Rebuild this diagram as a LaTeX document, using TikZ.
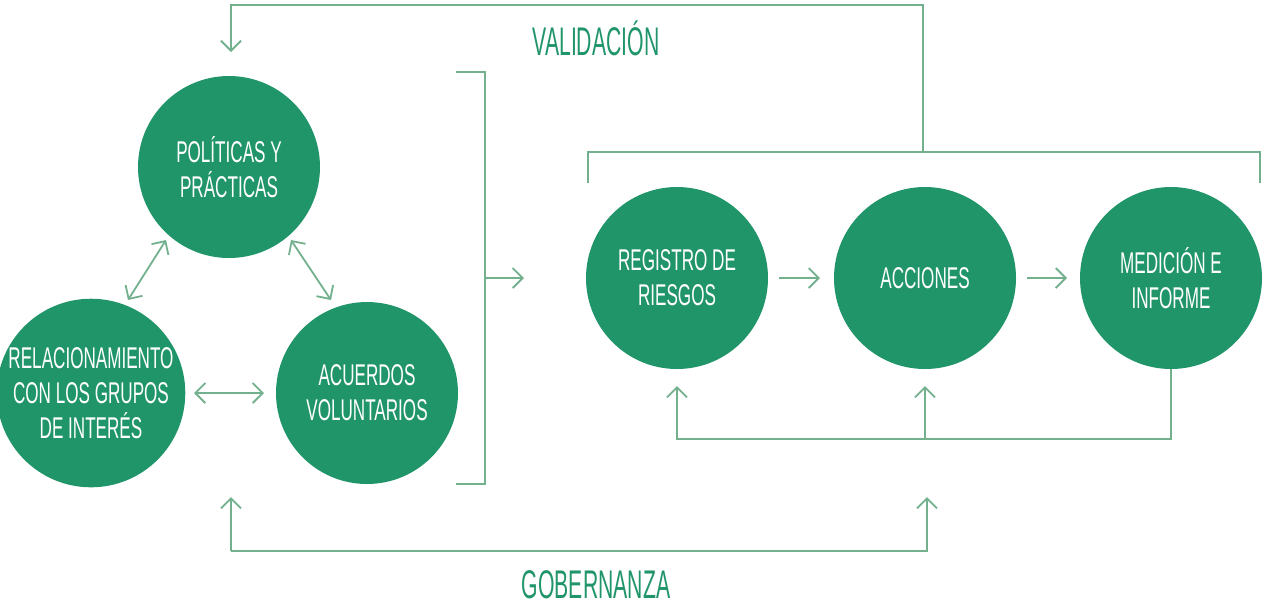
\documentclass[tikz,border=0pt]{standalone}
\usepackage{fontspec}
\setmainfont[FakeStretch=0.57]{Liberation Sans}
\newfontfamily\labelfont[FakeStretch=0.53]{Liberation Sans}
\usepackage{tikz}
\usetikzlibrary{arrows.meta}
\definecolor{circgreen}{HTML}{21956A}
\definecolor{linegreen}{HTML}{72B08E}
\tikzset{
  stage/.style={circle,fill=circgreen,minimum size=91pt,inner sep=0pt,
    text=white,align=center,font=\fontsize{15}{17.5}\selectfont},
  conn/.style={draw=linegreen,line width=0.9pt},
  tip/.style={-{Straight Barb[length=5pt,width=10pt]}},
  both/.style={{Straight Barb[length=5pt,width=10pt]}-{Straight Barb[length=5pt,width=10pt]}},
  lbl/.style={text=circgreen,inner sep=0pt,font=\labelfont\fontsize{20}{22}\selectfont}
}
\begin{document}
\begin{tikzpicture}[x=0.5pt,y=-0.5pt]
  \useasboundingbox (0,0) rectangle (1263,607);
  \node[stage] (pol) at (229,167) {POLÍTICAS Y\\PRÁCTICAS};
  \node[stage] (rel) at (91,393) {RELACIONAMIENTO\\CON LOS GRUPOS\\DE INTERÉS};
  \node[stage] (acu) at (367,393) {ACUERDOS\\VOLUNTARIOS};
  \node[stage] (reg) at (677,278) {REGISTRO DE\\RIESGOS};
  \node[stage] (acc) at (925,278) {ACCIONES};
  \node[stage] (med) at (1171,278) {MEDICIÓN E\\INFORME};
  \node[lbl] (val) at (596,38) {VALIDACIÓN};
  \node[lbl] (gob) at (596,585) {GOBERNANZA};
  \coordinate (brk) at (485,278);
  \coordinate (top) at (923,152);
  \draw[conn,tip] (top) |- (231,5) -- (231,52);
  \draw[conn] (588,183) |- (1260,152) -- (1260,183);
  \draw[conn] (456,72) -| (brk) |- (456,484);
  \draw[conn,tip] (brk) -- (524,278);
  \draw[conn,both] (128,300) -- (166,240);
  \draw[conn,both] (291,240) -- (331,300);
  \draw[conn,both] (194,393) -- (264,393);
  \draw[conn,tip] (779,278) -- (820,278);
  \draw[conn,tip] (1027,278) -- (1067,278);
  \draw[conn,tip] (med.south) |- (677,439) -- (677,386);
  \draw[conn,tip] (925,439) -- (925,386);
  \draw[conn,tip] (231,551) -- (231,497);
  \draw[conn,tip] (231,551) -| (927,497);
\end{tikzpicture}
\end{document}
